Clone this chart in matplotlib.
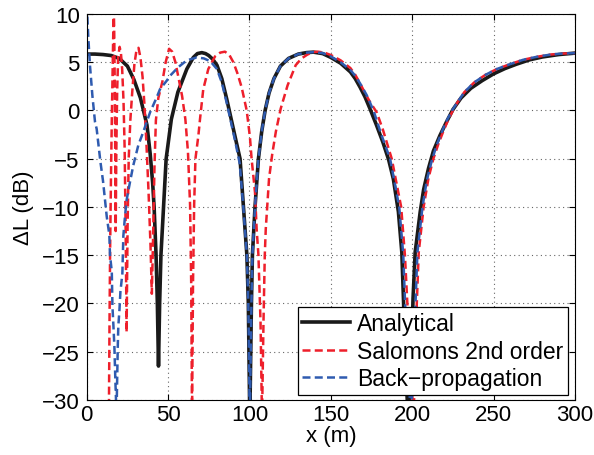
"""
Level difference vs range: analytical solution compared with
Salomons 2nd order and back-propagation results.
"""

import matplotlib
matplotlib.use("Agg")
import matplotlib.pyplot as plt

# Analytical
x_analytical = [0, 5, 10, 15, 20, 25, 29, 33, 37, 39, 40.5, 41.4, 42.6, 43.4, 44.1,
                44.8, 45.6, 47.2, 48.8, 52, 56, 61.5, 65.5, 68, 70.7, 73, 75, 77.5,
                80, 83, 86, 91, 94.2, 96.3, 98.4, 99.3, 100.2, 101.2, 101.8, 103.4,
                105.5, 107.5, 109.6, 112, 115, 119, 124, 130, 135, 139.3, 145, 150,
                156, 162, 165, 168, 171, 174, 178, 182, 185.5, 188.4, 191.5, 193.6,
                194.6, 195.8, 197.5, 199.3, 200.5, 201.8, 204.9, 207, 210, 213, 217,
                221, 225, 230, 236, 243, 250, 257, 264, 272, 280, 290, 300]
y_analytical = [5.85, 5.85, 5.8, 5.7, 5.4, 4.6, 3.2, 1.3, -1.5, -4.5, -7.5, -10, -15,
                -20, -26.5, -20, -15, -10, -5, -0.9, 1.9, 4.3, 5.5, 5.9, 6.0, 5.9, 5.7,
                5.3, 4.7, 3.3, 1.2, -2.6, -5, -10, -15, -20, -32, -20, -15, -10, -5,
                -2.2, 0, 1.8, 3.3, 4.6, 5.4, 5.85, 6.0, 6.05, 5.9, 5.5, 4.9, 4.0, 3.3,
                2.4, 1.4, 0.2, -1.5, -3.3, -5.1, -7.1, -10.5, -14.7, -19.5, -26, -32,
                -26, -19.5, -14.7, -10.5, -8.2, -6.0, -4.2, -2.6, -1.2, 0.1, 1.3, 2.3,
                3.1, 3.8, 4.35, 4.8, 5.25, 5.55, 5.8, 5.95]

# Salomons 2nd order
x_salomons = [13.6, 14.0, 14.4, 14.9, 15.4, 15.9, 16.3, 16.6, 16.9, 17.2, 17.5, 17.8,
              18.2, 18.7, 19.3, 20.2, 21.0, 21.8, 22.6, 23.3, 23.9, 24.5, 25.1,
              25.8, 26.8, 28.0, 29.3, 30.6, 31.8, 33.0, 34.3, 35.5, 36.7, 38.0,
              39.2, 40.0, 40.8, 41.6, 42.5, 44, 46.5, 48.5, 50.6, 52.5, 54.5, 56.5,
              58.6, 60.6, 62.2, 63.5, 64.2, 64.7, 65.3, 66, 66.8, 68.6, 69.6, 71.6,
              74.7, 78.8, 82, 84.9, 87.5, 90.1, 92.5, 95.2, 98.3, 100.3, 101.3,
              103.4, 104.4, 105.5, 106.8, 107.7, 108.6, 109.4, 110, 112, 114, 116.2,
              119.2, 123.4, 128.4, 132, 135.6, 139, 142, 146, 150, 156, 162, 165,
              168, 171, 174, 178.2, 182, 187.4, 193.2, 195.5, 197, 198.5, 200.8, 202,
              202.8, 204, 207, 210, 213, 216, 219, 222, 225, 228, 232, 238, 245, 252,
              260, 268, 276, 285, 292, 300]
y_salomons = [-32, -22, -14, -7, -1, 4, 8, 11, 8, 3, -4, -12.5, -4, 2, 5.5, 6.6, 6.0,
              4.2, 1.0, -4, -12, -23, -12, -5, -1, 2.0, 4.8, 6.3, 6.5, 5.5, 3.5, 0.5,
              -3.5, -8.5, -14, -19, -13, -6, -1.0, 1.3, 3.0, 5.0, 6.4, 6.1, 5.0, 3.3,
              1.5, -0.9, -4.3, -9.8, -18, -32, -18, -9.8, -5, -2.6, -0.9, 2.2, 4.3,
              5.6, 6.0, 6.1, 5.8, 5.0, 3.9, 2.4, 0, -2.8, -5, -8.5, -12.3, -15, -22,
              -32, -22, -15, -12.3, -7.1, -4.5, -2.2, 0.2, 2.6, 4.7, 5.4, 5.8, 6.05,
              6.1, 6.0, 5.75, 5.2, 4.4, 3.7, 2.8, 1.8, 0.9, -0.2, -2, -5, -10, -15,
              -20, -25, -32, -25, -20, -14.7, -10, -7.0, -5.0, -3.5, -2.2, -1.0, 0.0,
              0.9, 1.9, 2.9, 3.7, 4.3, 4.8, 5.25, 5.55, 5.8, 5.9, 5.95]

# Back-propagation
x_backprop = [0, 1, 2, 3.5, 5.1, 6.1, 8.4, 10, 12.3, 13.9, 14.3, 15.4, 15.8, 16.4, 17.0,
              17.6, 18.3, 19.1, 19.4, 20.1, 20.7, 21.9, 22.5, 23.5, 24.5, 26.6, 28.6,
              31.7, 34.8, 38.9, 43.1, 45, 49.2, 51.2, 56.3, 60, 63.5, 67.6, 72, 76,
              80, 83, 86, 91, 94, 96.2, 98.4, 99.3, 100.2, 101.2, 101.8, 103.4,
              105.5, 107.5, 109.6, 112, 115, 119, 124, 130, 135, 139.5, 145, 150,
              156, 162, 165, 168, 172, 176.2, 181, 186.4, 192, 194.5, 195.6, 197.3,
              199.2, 200.8, 202, 203.2, 206.3, 209, 212, 215, 218, 221, 224.5, 228,
              232, 238, 245, 252, 260, 268, 276, 285, 292, 300]
y_backprop = [11, 7.5, 4.65, 1.5, -1.2, -1.9, -5.3, -7.3, -11, -12.9, -15, -16.7, -20.3,
              -22.3, -24.5, -28, -31.5, -24.3, -22.4, -20.7, -18.8, -16.9, -13, -11,
              -9.3, -7.4, -5.7, -3.6, -2.2, -0.2, 1.4, 2.2, 3.1, 3.6, 4.5, 5.0, 5.3,
              5.5, 5.4, 5.1, 4.3, 2.9, 0.8, -3, -5.5, -10, -15, -20, -32, -20, -15,
              -10, -5, -2.2, 0, 1.8, 3.3, 4.6, 5.4, 5.85, 6.0, 6.05, 5.95, 5.6, 5.0,
              4.2, 3.6, 2.8, 1.6, 0, -2.5, -5, -10, -15, -20, -26, -32, -26, -20,
              -14.7, -10, -7.2, -5.2, -3.6, -2.3, -1.1, 0.0, 0.9, 1.9, 2.9, 3.7, 4.3,
              4.8, 5.25, 5.55, 5.8, 5.9, 5.95]

series_labels = ["Analytical", "Salomons 2nd order", "Back\u2212propagation"]

plt.rcParams["font.family"] = ["Liberation Sans", "DejaVu Sans"]
plt.rcParams["font.size"] = 16

fig = plt.figure(figsize=(5.94, 4.56), dpi=100)
ax = fig.add_axes([0.146, 0.121, 0.822, 0.846])

red = "#ee1f2b"
blue = "#2f5bb0"

ax.plot(x_analytical, y_analytical, color="#1a1a1a", lw=2.6, label=series_labels[0],
        solid_joinstyle="round")
ax.plot(x_salomons, y_salomons, color=red, lw=1.8, dashes=(3.2, 1.7), label=series_labels[1])
ax.plot(x_backprop, y_backprop, color=blue, lw=1.8, dashes=(3.2, 1.7), label=series_labels[2])

ax.set_xlim(0, 300)
ax.set_ylim(-30, 10)
ax.set_xticks(range(0, 301, 50))
ax.set_yticks(range(-30, 11, 5))
ax.tick_params(direction="in", top=True, right=True, length=4, width=0.8, pad=5)
ax.tick_params(axis="x", pad=3)
ax.grid(True, linestyle=(0, (1, 3)), color="#666666", linewidth=0.8)
for spine in ax.spines.values():
    spine.set_linewidth(0.8)

ax.set_xlabel("x (m)", labelpad=0)
ax.set_ylabel("\u0394L (dB)", labelpad=6)

leg = ax.legend(loc="lower right", bbox_to_anchor=(0.986, 0.013), borderaxespad=0,
                fancybox=False, framealpha=1, edgecolor="black", handlelength=2.1,
                handletextpad=0.3, labelspacing=0.2, borderpad=0.2, fontsize=16.5)
leg.get_frame().set_linewidth(0.9)

fig.savefig("out.png", dpi=100)
